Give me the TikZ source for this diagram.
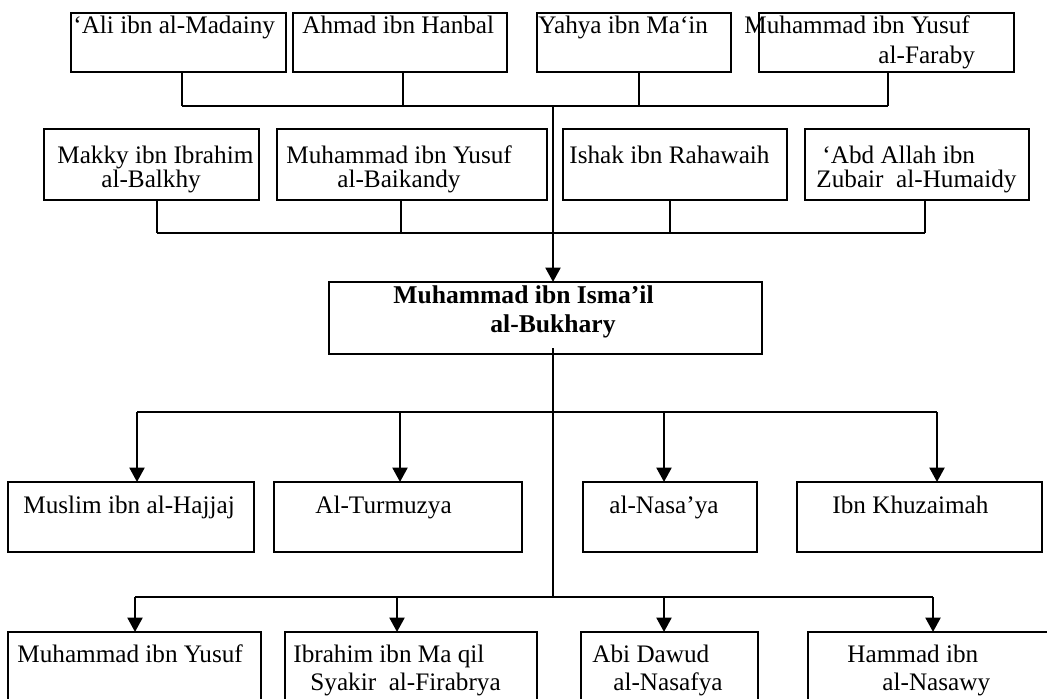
\documentclass[tikz,border=0pt]{standalone}
\usepackage{fontspec}
\setmainfont{Liberation Serif}
\usetikzlibrary{arrows.meta}
\newcommand\mybox[5]{\node[box,minimum width={(#4-#2)*0.5pt},minimum height={(#5-#3)*0.5pt}] (#1) at (#2,#3) {};}
\begin{document}
\begin{tikzpicture}[x=0.5pt,y=-0.5pt,
  box/.style={draw, line width=0.8pt, inner sep=0pt, outer sep=0pt, anchor=north west},
  txt/.style={anchor=base west, inner sep=0pt, font=\fontsize{12.6}{15}\selectfont},
  btxt/.style={txt, font=\fontsize{12.8}{15}\selectfont\bfseries},
  conn/.style={line width=0.9pt},
  arr/.style={line width=1.4pt, -{Triangle[length=7.2pt,width=7.4pt]}}]
\useasboundingbox[fill=white] (0,0) rectangle (1047,698);
% boxes
\mybox{ali}{71}{13}{286}{72}
\mybox{ahmad}{293}{13}{507}{72}
\mybox{yahya}{537}{13}{731}{72}
\mybox{faraby}{759}{13}{1014}{72}
\mybox{makky}{44}{129}{259}{200}
\mybox{baik}{277}{129}{547}{200}
\mybox{ishak}{563}{129}{787}{200}
\mybox{abd}{805}{129}{1029}{200}
\mybox{main}{329}{282}{762}{354}
\mybox{muslim}{8}{482}{254}{552}
\mybox{turm}{274}{482}{522}{552}
\mybox{nasaya}{583}{482}{757}{552}
\mybox{khuza}{797}{482}{1042}{552}
\mybox{yusuf}{8}{632}{261}{702}
\mybox{ibrahim}{285}{632}{537}{702}
\mybox{abi}{581}{632}{758}{702}
\mybox{hammad}{808}{632}{1060}{702}
% texts
\node[txt] (tali) at (73,33) {‘Ali ibn al-Madainy};
\node[txt] (tahmad) at (302,33) {Ahmad ibn Hanbal};
\node[txt] (tyahya) at (538,33) {Yahya ibn Ma‘in};
\node[txt] (tfar1) at (744,33) {Muhammad ibn Yusuf};
\node[txt] (tfar2) at (878,63) {al-Faraby};
\node[txt] (tmak1) at (57,163) {Makky ibn Ibrahim};
\node[txt] (tmak2) at (101,187) {al-Balkhy};
\node[txt] (tbai1) at (286,163) {Muhammad ibn Yusuf};
\node[txt] (tbai2) at (337,187) {al-Baikandy};
\node[txt] (tish) at (569,163) {Ishak ibn Rahawaih};
\node[txt] (tabd1) at (822,163) {‘Abd Allah ibn};
\node[txt] (tabd2) at (816,187) {Zubair\ \ al-Humaidy};
\node[btxt] (tmain1) at (393,303) {Muhammad ibn Isma’il};
\node[btxt] (tmain2) at (490,332) {al-Bukhary};
\node[txt] (tmus) at (23,513) {Muslim ibn al-Hajjaj};
\node[txt] (tturm) at (315,513) {Al-Turmuzya};
\node[txt] (tnas) at (609,513) {al-Nasa’ya};
\node[txt] (tkhu) at (832,513) {Ibn Khuzaimah};
\node[txt] (tyus) at (17,662) {Muhammad ibn Yusuf};
\node[txt] (tibr1) at (293,662) {Ibrahim ibn Ma qil};
\node[txt] (tibr2) at (310,690) {Syakir\ \ al-Firabrya};
\node[txt] (tabi1) at (592,662) {Abi Dawud};
\node[txt] (tabi2) at (613,690) {al-Nasafya};
\node[txt] (tham1) at (847,662) {Hammad ibn};
\node[txt] (tham2) at (882,690) {al-Nasawy};
% top bus
\coordinate (u1) at (182,106); \coordinate (u2) at (403,106);
\coordinate (u3) at (639,106); \coordinate (u4) at (888,106);
\coordinate (top) at (553,106);
\draw[conn] (u1) -- (u4);
\draw[conn] (ali.south -| u1) -- (u1);
\draw[conn] (ahmad.south -| u2) -- (u2);
\draw[conn] (yahya.south -| u3) -- (u3);
\draw[conn] (faraby.south -| u4) -- (u4);
% second bus
\coordinate (v1) at (157,233); \coordinate (v2) at (401,233);
\coordinate (v3) at (670,233); \coordinate (v4) at (925,233);
\draw[conn] (v1) -- (v4);
\draw[conn] (makky.south -| v1) -- (v1);
\draw[conn] (baik.south -| v2) -- (v2);
\draw[conn] (ishak.south -| v3) -- (v3);
\draw[conn] (abd.south -| v4) -- (v4);
% main arrow
\draw[arr] (top) -- (top |- main.north);
% lower trunk
\coordinate (r3a) at (137,412); \coordinate (r3b) at (400,412);
\coordinate (r3c) at (664,412); \coordinate (r3d) at (937,412);
\coordinate (r4a) at (135,597); \coordinate (r4b) at (397,597);
\coordinate (r4c) at (664,597); \coordinate (r4d) at (933,597);
\coordinate (trunk) at (553,597);
\draw[line width=0.7pt] ([yshift=3pt]main.south -| top) -- (trunk);
\draw[conn] (r3a) -- (r3d);
\draw[conn] (r4a) -- (r4d);
\draw[arr] (r3a) -- (r3a |- muslim.north);
\draw[arr] (r3b) -- (r3b |- turm.north);
\draw[arr] (r3c) -- (r3c |- nasaya.north);
\draw[arr] (r3d) -- (r3d |- khuza.north);
\draw[arr] (r4a) -- (r4a |- yusuf.north);
\draw[arr] (r4b) -- (r4b |- ibrahim.north);
\draw[arr] (r4c) -- (r4c |- abi.north);
\draw[arr] (r4d) -- (r4d |- hammad.north);
\end{tikzpicture}
\end{document}
